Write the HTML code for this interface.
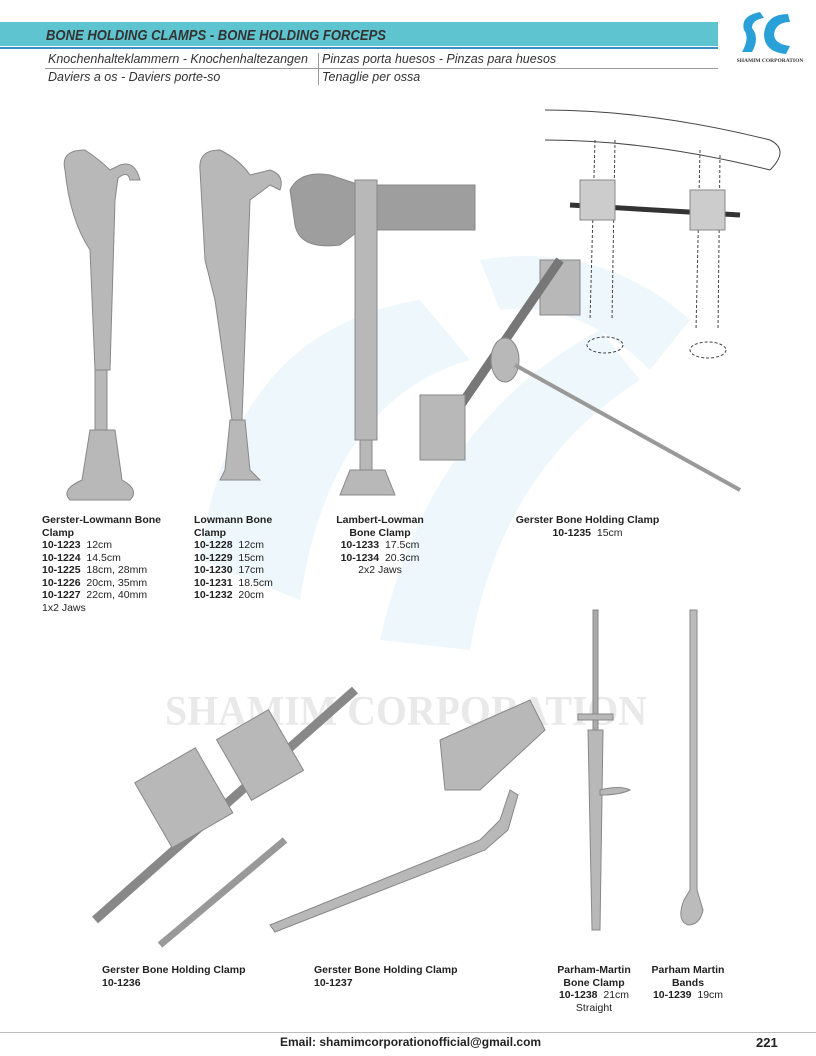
<!DOCTYPE html>
<html><head><meta charset="utf-8"><style>
body{margin:0;width:816px;height:1056px;background:#fff;position:relative;overflow:hidden;font-family:"Liberation Sans",sans-serif;color:#222}
.a{position:absolute}
.cap{font-size:10.5px;line-height:12.5px}
.cap b{font-weight:bold}
.it{font-style:italic;font-size:12.5px;color:#333}
</style></head><body>
<svg class="a" style="left:0;top:0" width="816" height="1056">
<path d="M200 560 Q230 330 420 300 L470 360 Q330 400 300 600 Z" fill="#eef7fb"/>
<path d="M380 640 Q430 420 600 330 L640 380 Q500 470 470 650 Z" fill="#eef7fb"/>
<path d="M480 260 Q600 240 690 320 L650 370 Q580 300 500 310 Z" fill="#eef7fb"/>
<text x="165" y="725" font-family="Liberation Serif" font-weight="bold" font-size="42" fill="#e9e9e9" textLength="482" lengthAdjust="spacingAndGlyphs">SHAMIM CORPORATION</text>
</svg>
<div class="a" style="left:0;top:22px;width:718px;height:24px;background:#5ec4cf"></div>
<div class="a" style="left:0;top:47px;width:718px;height:2px;background:#3a8fc4"></div>
<svg class="a" style="left:46px;top:24px" width="360" height="22"><text x="0" y="16" font-family="Liberation Sans" font-size="14.5" font-weight="bold" font-style="italic" fill="#333" textLength="340" lengthAdjust="spacingAndGlyphs">BONE HOLDING CLAMPS - BONE HOLDING FORCEPS</text></svg>
<div class="a it" style="left:48px;top:52px">Knochenhalteklammern - Knochenhaltezangen</div>
<div class="a it" style="left:322px;top:52px">Pinzas porta huesos - Pinzas para huesos</div>
<div class="a" style="left:45px;top:68px;width:673px;height:1px;background:#999"></div>
<div class="a it" style="left:48px;top:70px">Daviers a os - Daviers porte-so</div>
<div class="a it" style="left:322px;top:70px">Tenaglie per ossa</div>
<div class="a" style="left:318px;top:53px;width:1px;height:32px;background:#999"></div>
<svg class="a" style="left:730px;top:8px" width="80" height="58">
<path d="M30 4 Q10 8 14 22 Q20 30 12 44 L22 44 Q30 30 22 20 Q22 12 34 10 Z" fill="#2aa0d8"/>
<path d="M58 6 Q36 6 34 26 Q34 44 56 46 L60 38 Q44 36 44 26 Q46 14 60 14 Z" fill="#2aa0d8"/>
<text x="40" y="54" font-size="5.5" text-anchor="middle" font-family="Liberation Serif" font-weight="bold" fill="#333">SHAMIM CORPORATION</text>
</svg>
<svg class="a" style="left:0;top:0" width="816" height="1056" fill="#b8b8b8" stroke="#888" stroke-width="1">
<path d="M65 170 Q60 150 85 150 Q100 160 110 170 L120 165 Q135 160 140 180 L130 180 Q128 170 118 178 L115 200 L110 370 L95 370 L90 250 Q70 220 65 170Z"/>
<rect x="95" y="370" width="12" height="60"/>
<path d="M90 430 L115 430 L122 480 Q140 490 130 500 L70 500 Q60 490 82 480Z"/>
<path d="M200 170 Q198 150 220 150 Q240 160 250 175 L270 170 Q285 175 280 190 L270 185 L250 200 L242 420 L232 420 L215 300 L205 260Z"/>
<path d="M230 420 L245 420 L250 470 L260 480 L220 480 L225 470Z"/>
<path d="M290 190 Q300 170 330 175 L360 185 L475 185 L475 230 L360 230 L340 245 Q300 250 295 225Z" fill="#9e9e9e"/>
<rect x="355" y="180" width="22" height="260"/>
<rect x="360" y="440" width="12" height="30"/>
<path d="M350 470 L385 470 L395 495 L340 495Z"/>
<rect x="540" y="260" width="40" height="55"/>
<line x1="560" y1="260" x2="430" y2="450" stroke="#777" stroke-width="9"/>
<ellipse cx="505" cy="360" rx="14" ry="22"/>
<line x1="515" y1="365" x2="740" y2="490" stroke="#999" stroke-width="4"/>
<rect x="420" y="395" width="45" height="65"/>
<g fill="none" stroke="#444">
<path d="M545 110 Q650 110 770 140 M545 140 Q650 140 770 170 M770 140 Q790 150 770 170"/>
<path d="M595 140 L590 320 M615 140 L612 320 M700 150 L696 330 M720 155 L718 330" stroke-dasharray="3,2"/>
<ellipse cx="605" cy="345" rx="18" ry="8" stroke-dasharray="3,2"/>
<ellipse cx="708" cy="350" rx="18" ry="8" stroke-dasharray="3,2"/>
</g>
<line x1="570" y1="205" x2="740" y2="215" stroke="#333" stroke-width="5"/>
<rect x="580" y="180" width="35" height="40" fill="#ccc"/>
<rect x="690" y="190" width="35" height="40" fill="#ccc"/>
<line x1="95" y1="920" x2="355" y2="690" stroke="#888" stroke-width="9"/>
<rect x="150" y="760" width="70" height="75" transform="rotate(-30 185 800)"/>
<rect x="230" y="720" width="60" height="70" transform="rotate(-30 260 755)"/>
<line x1="160" y1="945" x2="285" y2="840" stroke="#999" stroke-width="7"/>
<path d="M440 740 L530 700 L545 730 L480 790 L445 790Z"/>
<path d="M270 925 L480 840 L500 820 L510 790 L518 795 L508 830 L485 850 L275 932Z"/>
<rect x="593" y="610" width="5" height="120" fill="#aaa"/>
<rect x="578" y="714" width="35" height="6"/>
<path d="M588 730 L603 730 L600 930 L592 930Z"/>
<path d="M600 790 Q620 785 630 790 Q620 795 600 795Z"/>
<path d="M690 610 L697 610 L697 890 L703 910 Q700 925 688 925 Q676 920 684 900 L690 890Z" fill="#bbb"/>
</svg>
<div class="a cap" style="left:42px;top:514px"><b>Gerster-Lowmann Bone<br>Clamp</b><br><b>10-1223</b>&nbsp; 12cm<br><b>10-1224</b>&nbsp; 14.5cm<br><b>10-1225</b>&nbsp; 18cm, 28mm<br><b>10-1226</b>&nbsp; 20cm, 35mm<br><b>10-1227</b>&nbsp; 22cm, 40mm<br>1x2 Jaws</div>
<div class="a cap" style="left:194px;top:514px"><b>Lowmann Bone<br>Clamp</b><br><b>10-1228</b>&nbsp; 12cm<br><b>10-1229</b>&nbsp; 15cm<br><b>10-1230</b>&nbsp; 17cm<br><b>10-1231</b>&nbsp; 18.5cm<br><b>10-1232</b>&nbsp; 20cm</div>
<div class="a cap" style="left:330px;top:514px;width:100px;text-align:center"><b>Lambert-Lowman<br>Bone Clamp</b><br><b>10-1233</b>&nbsp; 17.5cm<br><b>10-1234</b>&nbsp; 20.3cm<br>2x2 Jaws</div>
<div class="a cap" style="left:500px;top:514px;width:175px;text-align:center"><b>Gerster Bone Holding Clamp</b><br><b>10-1235</b>&nbsp; 15cm</div>
<div class="a cap" style="left:102px;top:964px"><b>Gerster Bone Holding Clamp<br>10-1236</b></div>
<div class="a cap" style="left:314px;top:964px"><b>Gerster Bone Holding Clamp<br>10-1237</b></div>
<div class="a cap" style="left:548px;top:964px;width:92px;text-align:center"><b>Parham-Martin<br>Bone Clamp</b><br><b>10-1238</b>&nbsp; 21cm<br>Straight</div>
<div class="a cap" style="left:642px;top:964px;width:92px;text-align:center"><b>Parham Martin<br>Bands</b><br><b>10-1239</b>&nbsp; 19cm</div>
<div class="a" style="left:0;top:1032px;width:816px;height:1px;background:#bbb"></div>
<div class="a" style="left:280px;top:1035px;font-size:12px;font-weight:bold;color:#222">Email: shamimcorporationofficial@gmail.com</div>
<div class="a" style="left:756px;top:1035px;font-size:13px;font-weight:bold;color:#222">221</div>
</body></html>
